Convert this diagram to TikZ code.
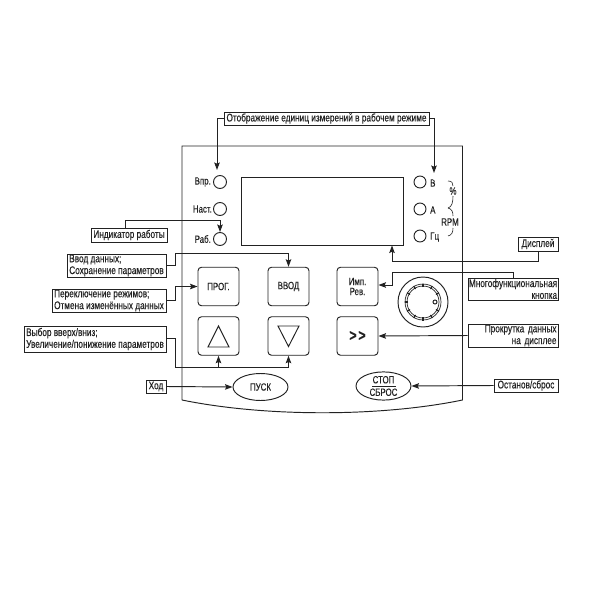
\documentclass[tikz,border=0pt]{standalone}
\usepackage{fontspec}
\setmainfont[FakeStretch=0.75,FakeBold=0.2]{Liberation Sans}
\usetikzlibrary{shapes.geometric,arrows.meta,calc}
\definecolor{ink}{HTML}{222222}
\tikzset{
  ln/.style={draw=ink,line width=0.95pt},
  lead/.style={ln,-{Stealth[length=7.5pt,width=5.5pt,inset=1.2pt]}},
  plain/.style={ln},
  lbl/.style={draw=ink,line width=1pt,rectangle,inner sep=0pt,font=\fontsize{11}{11.8}\selectfont,text=ink,fill=white},
  keybox/.style={ln,rectangle,rounded corners=3.5pt,minimum width=41pt,minimum height=38.5pt,inner sep=0pt,font=\fontsize{10.5}{10}\selectfont,text=ink},
  lamp/.style={ln,circle,minimum size=13pt,inner sep=0pt},
  captxt/.style={inner sep=0pt,font=\fontsize{10.5}{10}\selectfont,text=ink},
  oval/.style={ln,ellipse,minimum width=55pt,minimum height=27pt,inner sep=0pt,fill=white,font=\fontsize{10.5}{10}\selectfont,text=ink}
}
\begin{document}
\begin{tikzpicture}[x=1pt,y=-1pt]
\useasboundingbox (0,0) rectangle (600,600);
\fill[white] (0,0) rectangle (600,600);
% panel
\draw[ln] (182,400) -- (182,146) -- (462.5,146) -- (462.5,400) .. controls (380,417) and (265,417) .. (182,400);
% display
\node[ln,rectangle,minimum width=162pt,minimum height=68pt,inner sep=0pt] (disp) at (322,211) {};
% lamps
\node[lamp] (vpr) at (220,182) {};
\node[lamp] (nast) at (220,209) {};
\node[lamp] (rab) at (220,239) {};
\node[lamp,minimum size=12pt] (v) at (420,182) {};
\node[lamp,minimum size=12pt] (a) at (420,209) {};
\node[lamp,minimum size=12pt] (gc) at (420,236) {};
\node[captxt,anchor=east] (tvpr) at (211,182) {Впр.};
\node[captxt,anchor=east] (tnast) at (212,209) {Наст.};
\node[captxt,anchor=east] (trab) at (211,239) {Раб.};
\node[captxt,anchor=west] (tv) at (430,183) {В};
\node[captxt,anchor=west] (ta) at (430,210) {А};
\node[captxt,anchor=west] (tgc) at (430,237) {Гц};
\node[captxt] (pct) at (453,191) {\%};
\node[captxt] (rpm) at (450,222) {RPM};
\draw[plain,line width=0.6pt] (448,181) .. controls (452,181) and (453,183) .. (453,186);
\draw[plain,line width=0.6pt] (453,196) .. controls (453,202) and (452,207) .. (448,208);
\draw[plain,line width=0.6pt] (448,208) .. controls (452,209) and (453,212) .. (453,216);
\draw[plain,line width=0.6pt] (453,228) .. controls (453,232) and (452,235) .. (448,236);
% keys
\node[keybox] (prog) at (218.5,286.5) {ПРОГ.};
\node[keybox] (vvod) at (288.5,286.5) {ВВОД};
\node[keybox,align=center,font=\fontsize{10.5}{10}\selectfont] (imp) at (357.5,286.5) {Имп.\\Рев.};
\node[keybox] (up) at (218.5,336) {};
\node[keybox] (down) at (288.5,336) {};
\node[keybox,font=\fontsize{16}{15}\bfseries\selectfont] (ff) at (357.5,336) {>{}\kern2pt>};
\draw[ln] (208,347) -- (229,347) -- (218.5,326) -- cycle;
\draw[ln] (278,326) -- (299,326) -- (288.5,346.5) -- cycle;
% knob
\node[ln,circle,minimum size=50pt,inner sep=0pt] (knob) at (423,302) {};
\node[ln,circle,minimum size=36pt,inner sep=0pt,line width=0.7pt] (knobo) at (423,302) {};
\node[ln,circle,minimum size=32pt,inner sep=0pt,line width=0.7pt] (knobi) at (423,302) {};
\foreach \a in {30,60,...,330}{\draw[ln,line width=1.2pt] ($(knob.center)+(\a:15)$) -- ($(knob.center)+(\a:18.5)$);}
\node[ln,circle,minimum size=4pt,inner sep=0pt,fill=white] (dot) at (435,302) {};
% ovals
\node[oval] (pusk) at (260.5,387) {ПУСК};
\node[oval,minimum height=28pt,align=center,font=\fontsize{10.5}{12.5}\selectfont] (stop) at (383.5,386) {СТОП\\СБРОС};
\draw[ln] (372,386) -- (396,386);
% labels
\node[lbl,minimum width=205pt,minimum height=13pt] (ltop) at (326.5,118.5) {Отображение единиц измерений в рабочем режиме};
\node[lbl,minimum width=76pt,minimum height=14pt] (lind) at (129,235) {Индикатор работы};
\node[lbl,minimum height=23pt,align=left,minimum width=99pt] (lvvod) at (116.5,265.5) {Ввод данных;\\Сохранение параметров};
\node[lbl,minimum height=23pt,align=left,minimum width=114pt] (lper) at (109,300.5) {Переключение режимов;\\Отмена изменённых данных};
\node[lbl,minimum height=26pt,align=left,minimum width=142pt] (lsel) at (95,339) {Выбор вверх/вниз;\\Увеличение/понижение параметров};
\node[lbl,minimum width=20pt,minimum height=13pt] (lhod) at (156,386.5) {Ход};
\node[lbl,minimum width=40pt,minimum height=14pt] (ldisp) at (538,244) {Дисплей};
\node[lbl,minimum width=90pt,minimum height=22pt,align=right] (lmulti) at (513,289) {Многофункциональная\\кнопка};
\node[lbl,minimum width=90pt,minimum height=23pt,text width=87pt,align=right] (lscr) at (513,335.5) {Прокрутка данных\\на дисплее};
\node[lbl,minimum width=64pt,minimum height=13pt] (lstop) at (526,385.5) {Останов/сброс};
% bend points
\coordinate (c1) at (217,118.5);
\coordinate (c1e) at (217,170);
\coordinate (c2) at (434,118.5);
\coordinate (c2e) at (434,173);
\coordinate (c3) at (125,220);
\coordinate (c4) at (175,265.5);
\coordinate (c4b) at (175,253);
\coordinate (c5) at (175,300.5);
\coordinate (c6) at (175,338);
\coordinate (c6b) at (175,367);
\coordinate (c7) at (392,261);
\coordinate (c8) at (392,272);
\coordinate (c8b) at (392,285);
% leaders
\draw[lead] (ltop.west) -- (c1) -- (c1e);
\draw[lead] (ltop.east) -- (c2) -- (c2e);
\draw[lead] (lind.north -| c3) -- (c3) -| (rab.north);
\draw[lead] (lvvod.east |- c4) -- (c4) -- (c4b) -| (vvod.north);
\draw[lead] (lper.east |- c5) -- (c5) |- (prog.west);
\draw[plain] (lsel.east |- c6) -- (c6) -- (c6b) -- (down.south |- c6b);
\draw[lead] (up.south |- c6b) -- (up.south);
\draw[lead] (down.south |- c6b) -- (down.south);
\draw[lead] (lhod.east) -- (pusk.west);
\draw[lead] (ldisp.south) |- (c7) -- (c7 |- disp.south);
\draw[lead] (lmulti.north) |- (c8) -- (c8b) -- (imp.east |- c8b);
\draw[lead] (lscr.west) -- (ff.east);
\draw[lead] (lstop.west) -- (stop.east);
\end{tikzpicture}
\end{document}
